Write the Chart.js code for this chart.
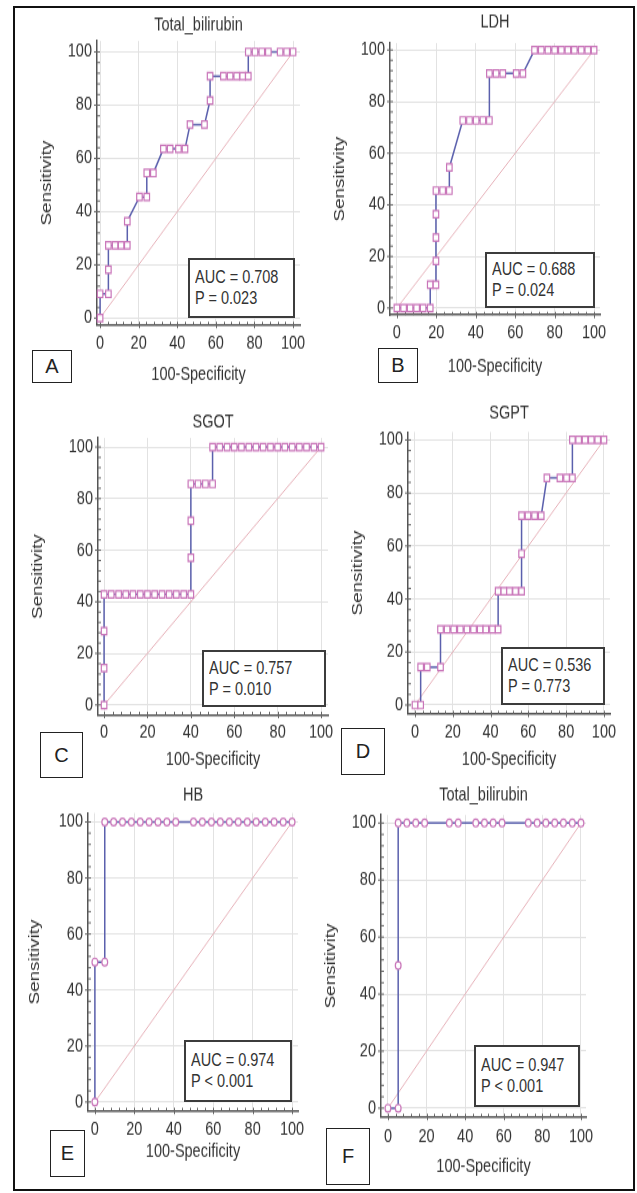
<!DOCTYPE html>
<html><head><meta charset="utf-8">
<script src="https://cdn.jsdelivr.net/npm/chart.js@4.4.1/dist/chart.umd.min.js"></script>
<style>
html,body{margin:0;padding:0;background:#fff;}
body{width:637px;height:1193px;position:relative;overflow:hidden;}
.frame{position:absolute;left:13px;top:6px;width:622px;height:1185px;border:2px solid #111;box-sizing:border-box;}
canvas{position:absolute;}
.auc{position:absolute;box-sizing:border-box;border:2px solid #3c3c3c;background:#fff;display:flex;flex-direction:column;justify-content:center;padding-left:5px;color:#333;white-space:nowrap;}
.auc div{height:21px;line-height:21px;transform:scaleY(1.3);transform-origin:0 50%;}
.lab{position:absolute;box-sizing:border-box;border:1.5px solid #222;background:#fff;display:flex;align-items:center;justify-content:center;color:#222;font:20px "Liberation Sans",Arial,sans-serif;}
</style></head><body>
<div class="frame"></div>
<script>
// ---------- data ----------
const panelTitles = ['Total_bilirubin','LDH','SGOT','SGPT','HB','Total_bilirubin'];
const panelLetters = ['A','B','C','D','E','F'];
const aucValues = ['AUC = 0.708','AUC = 0.688','AUC = 0.757','AUC = 0.536','AUC = 0.974','AUC = 0.947'];
const pValues = ['P = 0.023','P = 0.024','P = 0.010','P = 0.773','P < 0.001','P < 0.001'];
const xTickValues = [0,20,40,60,80,100];
const yTickValues = [0,20,40,60,80,100];
const xAxisTitle = '100-Specificity';
const yAxisTitle = 'Sensitivity';
const diagonalX = [0,100];
const diagonalY = [0,100];

const A_x = [0,0,4.3,4.3,4.3,7.8,10.9,14.1,14.1,20.4,24.2,24.2,27.6,32.8,36.3,40.6,44.0,46.6,54.1,57.0,57.0,63.9,67.4,70.8,73.9,76.8,76.8,80.3,83.8,87.2,93.3,96.7,100];
const A_y = [0,9.1,9.1,18.2,27.3,27.3,27.3,27.3,36.4,45.5,45.5,54.5,54.5,63.6,63.6,63.6,63.6,72.7,72.7,81.8,90.9,90.9,90.9,90.9,90.9,90.9,100,100,100,100,100,100,100];

const B_x = [0,3.4,6.7,10,13.3,16.9,16.9,19.8,19.8,19.8,19.8,19.8,23.2,26.6,26.6,33.4,36.8,40.2,43.6,46.9,46.9,50.3,53.7,60.5,63.9,69.8,73.2,76.6,80,83.4,86.7,90,93.5,96.8,100];
const B_y = [0,0,0,0,0,0,9.1,9.1,18.2,27.3,36.4,45.5,45.5,45.5,54.5,72.7,72.7,72.7,72.7,72.7,90.9,90.9,90.9,90.9,90.9,100,100,100,100,100,100,100,100,100,100];

const C_x = [0,0,0,0,3.3,6.7,10,13.3,16.7,20,23.3,26.7,30,33.3,36.7,40,40,40,40,43.3,46.7,50,50,53.3,56.7,60,63.3,66.7,70,73.3,76.7,80,83.3,86.7,90,93.3,96.7,100];
const C_y = [0,14.3,28.6,42.9,42.9,42.9,42.9,42.9,42.9,42.9,42.9,42.9,42.9,42.9,42.9,42.9,57.1,71.4,85.7,85.7,85.7,85.7,100,100,100,100,100,100,100,100,100,100,100,100,100,100,100,100];

const D_x = [0,3,3,6.5,13.5,13.5,17,20.5,24,27.5,31,34.5,37.5,41,44,44,47,50,53.2,56.4,56.4,56.4,59.8,63.3,66.8,69.8,76.7,80.2,83.3,83.3,86.6,90,93.3,96.7,100];
const D_y = [0,0,14.3,14.3,14.3,28.6,28.6,28.6,28.6,28.6,28.6,28.6,28.6,28.6,28.6,42.9,42.9,42.9,42.9,42.9,57.1,71.4,71.4,71.4,71.4,85.7,85.7,85.7,85.7,100,100,100,100,100,100];

const E_x = [0,0,5,5,9.5,14,18.5,23,27.5,32,36.5,41,50,54.5,59.1,63.6,68.2,72.7,77.3,81.8,86.4,90.9,95.5,100];
const E_y = [0,50,50,100,100,100,100,100,100,100,100,100,100,100,100,100,100,100,100,100,100,100,100,100];

const F_x = [0,5.3,5.3,5.3,9.8,14.4,19,31.8,36.4,45.5,50,54.5,59.1,72.7,77.3,81.8,86.4,90.9,95.5,100];
const F_y = [0,0,50,100,100,100,100,100,100,100,100,100,100,100,100,100,100,100,100,100];

const seriesX = [A_x,B_x,C_x,D_x,E_x,F_x];
const seriesY = [A_y,B_y,C_y,D_y,E_y,F_y];

// ---------- layout (page pixels) ----------
const STRETCH = 1.3; // the reference figure is stretched vertically
const layout = [
 {L:97,R:300,T:41,B:325,xmin:-1.6,xmax:103.6,ymin:-2.6,ymax:104.1,titleY:25,xTitleY:375,yTitleX:47,xTickY:343,auc:[188,258,295,318],lab:[32,350,72,383],marker:'rect'},
 {L:390,R:600,T:43,B:315,xmin:-3.5,xmax:103.0,ymin:-2.7,ymax:102.7,titleY:22,xTitleY:367,yTitleX:340,xTickY:333,auc:[485,252,595,308],lab:[378,348,418,383],marker:'rect'},
 {L:98,R:328,T:438,B:715,xmin:-2.8,xmax:103.2,ymin:-3.9,ymax:103.5,titleY:422,xTitleY:760,yTitleX:38,xTickY:733,auc:[202,650,326,707],lab:[40,732,83,778],marker:'rect'},
 {L:408,R:610,T:432,B:714,xmin:-3.7,xmax:103.2,ymin:-3.4,ymax:103,titleY:413,xTitleY:760,yTitleX:358,xTickY:732,auc:[501,647,605,705],lab:[341,728,385,775],marker:'rect'},
 {L:88,R:298,T:813,B:1111,xmin:-3.5,xmax:103,ymin:-3.2,ymax:103.2,titleY:795,xTitleY:1152,yTitleX:35,xTickY:1130,auc:[184,1040,292,1102],lab:[50,1130,85,1177],marker:'circle'},
 {L:381,R:586,T:815,B:1117,xmin:-3.6,xmax:102.6,ymin:-3.1,ymax:102.8,titleY:795,xTitleY:1167,yTitleX:331,xTickY:1137,auc:[474,1045,580,1107],lab:[326,1128,370,1185],marker:'circle'}
];

const FAM = '"Liberation Sans", Arial, sans-serif';
const S = {tick:14.5, title:14.5, axis:14.5, auc:14.5};

const minorTicks = {
  id: 'minorTicks',
  beforeDatasetsDraw(chart) {
    const {ctx, chartArea: a, scales: {x, y}} = chart;
    ctx.save();
    ctx.strokeStyle = '#666'; ctx.lineWidth = 1;
    ctx.beginPath();
    for (let v = 0; v <= 100; v += 4) {
      const major = v % 20 === 0;
      const px = Math.round(x.getPixelForValue(v)) + 0.5;
      ctx.moveTo(px, a.bottom + (major ? 2.5 : 0)); ctx.lineTo(px, a.bottom - 2.5);
      const py = y.getPixelForValue(v);
      ctx.moveTo(a.left - (major ? 3 : 0), py); ctx.lineTo(a.left + 3, py);
    }
    ctx.stroke();
    ctx.restore();
  }
};

function makePanel(i){
  const P = layout[i];
  const tLH = S.title * 1.2, aLH = S.axis * 1.2, kLH = S.tick * 1.2;
  const canvasLeft = Math.round(P.yTitleX - aLH / 2);
  const YW = P.L - canvasLeft;
  const canvasTop = Math.round(P.titleY - STRETCH * (tLH / 2 + 2));
  const canvasBottom = Math.round(P.xTitleY + STRETCH * (aLH / 2 + 2));
  const Hpage = canvasBottom - canvasTop;
  const Hint = Math.round(Hpage / STRETCH);
  const k = Hpage / Hint;
  const toInt = yPage => (yPage - canvasTop) / k;

  const tPadTop = toInt(P.titleY) - tLH / 2;
  const TH = toInt(P.T);
  const XH = Hint - toInt(P.B);
  const xTitlePadBottom = Hint - toInt(P.xTitleY) - aLH / 2;
  const xTickPad = toInt(P.xTickY) - toInt(P.B) - kLH / 2;
  const PR = 16;
  const W = YW + (P.R - P.L) + PR;

  const cv = document.createElement('canvas');
  cv.width = W; cv.height = Hint;
  cv.style.left = canvasLeft + 'px'; cv.style.top = canvasTop + 'px';
  cv.style.width = W + 'px'; cv.style.height = Hpage + 'px';
  document.body.appendChild(cv);

  const pts = seriesX[i].map((x, j) => ({x: x, y: seriesY[i][j]}));
  const diag = diagonalX.map((x, j) => ({x: x, y: diagonalY[j]}));

  new Chart(cv, {
    type: 'scatter',
    data: { datasets: [
      { data: pts, showLine: true, borderColor: '#5b60ad', borderWidth: 1.5,
        pointStyle: P.marker, pointRadius: P.marker === 'rect' ? 3.9 : 2.9,
        pointBorderColor: '#c975b9', pointBackgroundColor: '#ffffff', pointBorderWidth: 1.2,
        tension: 0, clip: false },
      { data: diag, showLine: true, borderColor: '#e6b0b8', borderWidth: 1, pointRadius: 0, clip: false }
    ]},
    options: {
      responsive: false, animation: false, events: [], devicePixelRatio: 1,
      layout: { padding: { left: 0, top: 0, bottom: 0, right: PR } },
      plugins: {
        legend: { display: false }, tooltip: { enabled: false },
        title: { display: true, text: panelTitles[i], fullSize: false, color: '#333',
          font: { family: FAM, size: S.title, weight: 'normal' },
          padding: { top: tPadTop, bottom: TH - tLH - tPadTop } }
      },
      scales: {
        x: { type: 'linear', min: P.xmin, max: P.xmax,
          afterBuildTicks: s => { s.ticks = xTickValues.map(v => ({value: v})); },
          afterFit: s => { s.height = XH; },
          ticks: { color: '#333', font: { family: FAM, size: S.tick }, padding: xTickPad, maxRotation: 0, autoSkip: false },
          grid: { color: '#e2e2e2', lineWidth: 1, drawTicks: false },
          border: { display: true, color: '#555', width: 1.5 },
          title: { display: true, text: xAxisTitle, color: '#333', font: { family: FAM, size: S.axis }, padding: { top: 0, bottom: xTitlePadBottom } }
        },
        y: { type: 'linear', min: P.ymin, max: P.ymax,
          afterBuildTicks: s => { s.ticks = yTickValues.map(v => ({value: v})); },
          afterFit: s => { s.width = YW; },
          ticks: { color: '#333', font: { family: FAM, size: S.tick }, padding: 5, autoSkip: false },
          grid: { color: '#e2e2e2', lineWidth: 1, drawTicks: false },
          border: { display: true, color: '#555', width: 1.5 },
          title: { display: true, text: yAxisTitle, color: '#333', font: { family: FAM, size: S.axis }, padding: { top: 0, bottom: 0 } }
        }
      }
    },
    plugins: [minorTicks]
  });

  const box = document.createElement('div');
  box.className = 'auc';
  box.style.left = P.auc[0] + 'px'; box.style.top = P.auc[1] + 'px';
  box.style.width = (P.auc[2] - P.auc[0]) + 'px'; box.style.height = (P.auc[3] - P.auc[1]) + 'px';
  box.style.font = S.auc + 'px ' + FAM;
  const l1 = document.createElement('div'); l1.textContent = aucValues[i];
  const l2 = document.createElement('div'); l2.textContent = pValues[i];
  box.appendChild(l1); box.appendChild(l2);
  document.body.appendChild(box);

  const lab = document.createElement('div');
  lab.className = 'lab';
  lab.style.left = P.lab[0] + 'px'; lab.style.top = P.lab[1] + 'px';
  lab.style.width = (P.lab[2] - P.lab[0]) + 'px'; lab.style.height = (P.lab[3] - P.lab[1]) + 'px';
  lab.textContent = panelLetters[i];
  document.body.appendChild(lab);
}

for (let i = 0; i < layout.length; i++) makePanel(i);
</script>
</body></html>
